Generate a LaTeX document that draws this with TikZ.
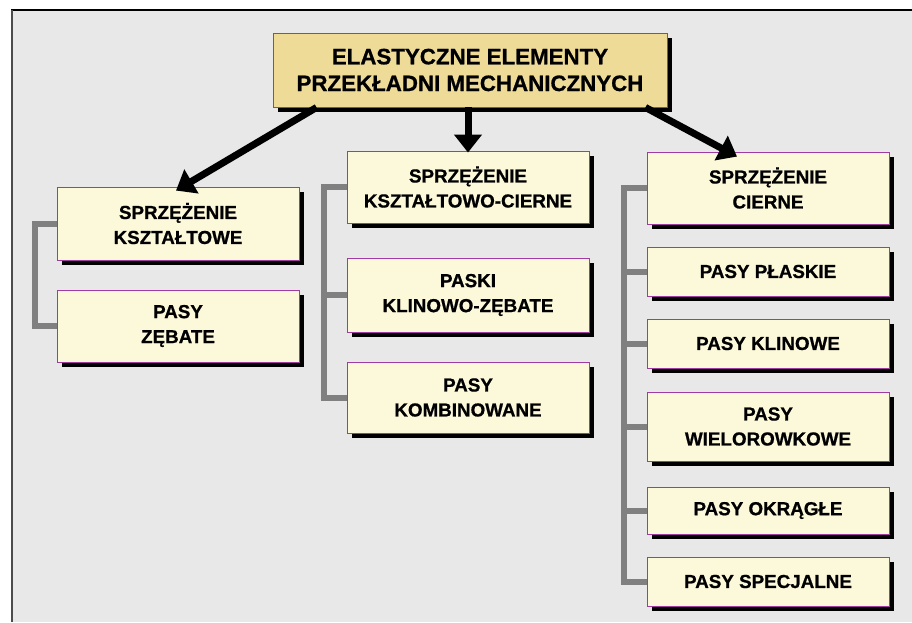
\documentclass[tikz,border=0pt]{standalone}
\usepackage{fontspec}
\setmainfont{Liberation Sans}[BoldFeatures={FakeBold=0.8}]
\usetikzlibrary{arrows.meta,shadows}
\definecolor{boxfill}{HTML}{FCF8DA}
\definecolor{titlefill}{HTML}{EEDB98}
\definecolor{boxline}{HTML}{A33AA3}
\definecolor{panel}{HTML}{E8E8E8}
\newcommand{\boxfont}{\bfseries\fontsize{18.8}{25}\selectfont}
\newcommand{\titlefont}{\bfseries\fontsize{22.3}{26.7}\selectfont}

\begin{document}
\begin{tikzpicture}[x=1pt,y=-1pt,line join=miter,
    box/.style={draw=boxline,fill=boxfill,line width=0.9pt,minimum width=242pt,
      inner sep=0pt,align=center,font=\boxfont,
      drop shadow={shadow xshift=4.5pt,shadow yshift=-4.5pt,fill=black,opacity=1}},
    bus/.style={draw=gray,line width=6pt},
    arr/.style={line width=7pt,-{Triangle[width=27pt,length=18pt]}}]
  \useasboundingbox (0,0) rectangle (912,622);
  \fill[panel] (11,10) rectangle (912,622);
  \draw[line width=1.5pt] (11,10) -- (912,10);
  \draw[line width=2pt,black!70] (12,10) -- (12,622);

  % top
  \node[box,fill=titlefill,minimum width=394pt,minimum height=74pt,font=\titlefont]
    (top) at (470,70) {ELASTYCZNE ELEMENTY\\PRZEKŁADNI MECHANICZNYCH};

  % left column
  \node[box,minimum height=73pt] (ksztaltowe) at (178,223.5) {SPRZĘŻENIE\\KSZTAŁTOWE};
  \node[box,minimum height=72pt] (zebate) at (178,326) {PASY\\ZĘBATE};

  % middle column
  \node[box,minimum height=72pt] (ksztcierne) at (468,187) {SPRZĘŻENIE\\KSZTAŁTOWO-CIERNE};
  \node[box,minimum height=74pt] (klinzeb) at (468,295) {PASKI\\KLINOWO-ZĘBATE};
  \node[box,minimum height=71pt] (kombin) at (468,397.5) {PASY\\KOMBINOWANE};

  % right column
  \node[box,minimum height=72pt] (cierne) at (768,188) {SPRZĘŻENIE\\CIERNE};
  \foreach \name/\y/\h/\txt in {plaskie/271.5/49/{PASY PŁASKIE},
      klinowe/343.5/49/{PASY KLINOWE},
      wielorowk/426.5/69/{PASY\\WIELOROWKOWE},
      okragle/510.5/47/{PASY OKRĄGŁE},
      specjalne/581.5/49/{PASY SPECJALNE}} {
      \node[box,minimum height=\h pt] (\name) at (768,\y) {\txt};
    }

  % gray buses
  \draw[bus] (ksztaltowe.west) -- ++(-22,0) |- (zebate.west);
  \foreach \n in {klinzeb,kombin} {
      \draw[bus] (ksztcierne.west) -- ++(-23,0) |- (\n.west);
    }
  \foreach \n in {plaskie,klinowe,wielorowk,okragle,specjalne} {
      \draw[bus] (cierne.west) -- ++(-23,0) |- (\n.west);
    }

  % arrows
  \draw[arr] (top.south west) ++(44,0) -- ([xshift=-2pt,yshift=-4pt]ksztaltowe.north);
  \draw[arr] (top.south -| ksztcierne.north) -- ([yshift=-2pt]ksztcierne.north);
  \draw[arr] (top.south east) ++(-22,0) -- ([xshift=-31pt,yshift=-5pt]cierne.north);
\end{tikzpicture}
\end{document}
